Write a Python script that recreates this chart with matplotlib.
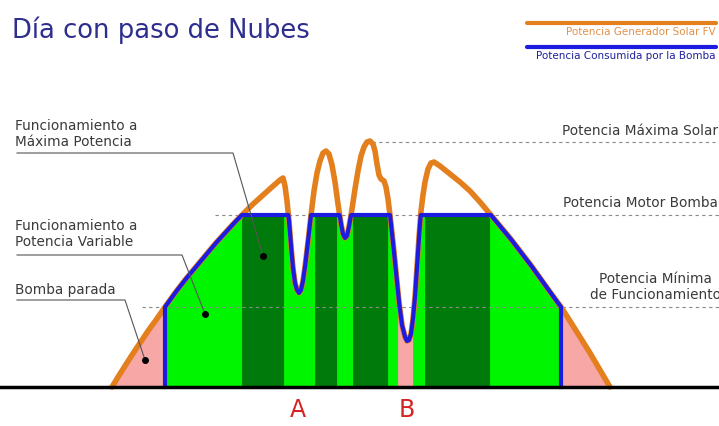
import numpy as np
import matplotlib.pyplot as plt

# Solar generator power over the day (x = time position, y = power)
solar_t = [112, 118, 125, 132, 140, 148, 156, 165, 175, 185, 195, 205, 215, 225,
           235, 243, 252, 262, 272, 280, 283,
           285, 287, 289, 291, 293, 295, 297, 299, 301, 303, 305, 308, 311, 314,
           317, 320, 323, 326, 329, 332, 335, 338, 341, 343, 345, 347, 349, 352,
           355, 358, 361, 364, 367, 370, 373, 375, 377, 379, 381, 384, 386, 388,
           390, 393, 396, 399, 402, 405, 407, 409, 411, 413, 415, 417, 419, 421,
           423, 425, 428, 431, 434, 440, 450, 460, 470, 480, 490, 500, 510, 520,
           530, 540, 550, 561, 570, 580, 590, 600, 610]
solar_p = [0, 10, 21, 32, 44, 56, 67, 80, 94, 107, 119, 131, 143, 154,
           165, 173, 182, 191, 200, 207, 209,
           201, 186, 166, 141, 119, 104, 97, 94, 97, 106, 120, 145, 172, 196,
           214, 226, 234, 236, 233, 222, 205, 183, 163, 153, 149, 151, 160, 178,
           198, 216, 231, 240, 245, 246, 243, 236, 223, 212, 208, 206, 200, 188,
           172, 145, 115, 85, 62, 50, 46, 47, 53, 68, 90, 120, 150, 176,
           192, 205, 218, 224, 225, 221, 213, 205, 196, 185, 173, 161, 149, 136,
           123, 109, 95, 80, 66, 50, 34, 17, 0]

# Reference levels
p_max_solar = 245
p_motor = 172
p_min = 80

# Pump start / stop times
t_start, t_stop = 165, 561

# Operating regions between edges
region_edges = [112, 165, 242, 284, 315, 337, 353, 388, 398, 413, 425, 490, 561, 610]
region_state = ['stop', 'var', 'max', 'var', 'max', 'var', 'max', 'var', 'stop',
                'var', 'max', 'var', 'stop']

state_color = {'stop': '#F8A7A7', 'var': '#00F500', 'max': '#007A0A'}
orange = '#E47F1E'
blue = '#1C1CE0'
grey_txt = '#3A3A3A'

solar_t = np.array(solar_t, dtype=float)
solar_p = np.array(solar_p, dtype=float)

def pump_power(t):
    p = np.interp(t, solar_t, solar_p)
    on = (t >= t_start) & (t <= t_stop)
    return np.where(on, np.minimum(p, p_motor), p)

fig = plt.figure(figsize=(7.19, 4.26), dpi=100)
ax = fig.add_axes([0, 0, 1, 1])
ax.set_xlim(0, 719)
ax.set_ylim(-39, 387)
ax.axis('off')

# coloured regions under the pump curve
for a, b, s in zip(region_edges[:-1], region_edges[1:], region_state):
    tt = np.linspace(a, b, 80)
    ax.fill_between(tt, 0, pump_power(tt), facecolor=state_color[s],
                    edgecolor=state_color[s], lw=0.6, zorder=1)

# dashed reference lines
dash = dict(ls=(0, (3, 3)), color='#8A8A8A', lw=0.8, zorder=2)
ax.plot([372, 715], [p_max_solar, p_max_solar], **dash)
ax.plot([215, 719], [p_motor, p_motor], **dash)
ax.plot([142, 719], [p_min, p_min], **dash)

# solar curve
ax.plot(solar_t, solar_p, color=orange, lw=4, solid_joinstyle='round',
        solid_capstyle='round', zorder=3)

# pump curve
tt = np.linspace(t_start, t_stop, 1000)
tt = np.unique(np.concatenate([tt, solar_t[(solar_t > t_start) & (solar_t < t_stop)]]))
bt = np.concatenate([[t_start], tt, [t_stop]])
bp = np.concatenate([[0], pump_power(tt), [0]])
ax.plot(bt, bp, color=blue, lw=3.0, solid_joinstyle='round', zorder=4)

# baseline
ax.plot([0, 719], [0, 0], color='black', lw=2.5, zorder=5)

# title
ax.text(12, 357, 'Día con paso de Nubes', fontsize=18.6, color='#2E2E8E', va='center', ha='left')

# legend
ax.plot([527, 716], [364, 364], color=orange, lw=3, solid_capstyle='round')
ax.text(716, 355, 'Potencia Generador Solar FV', fontsize=7.5, color='#E0924A',
        ha='right', va='center')
ax.plot([527, 716], [340, 340], color=blue, lw=3, solid_capstyle='round')
ax.text(716, 331, 'Potencia Consumida por la Bomba', fontsize=7.5, color='#2020A0',
        ha='right', va='center')

# left annotations
fs = 9.8
ax.text(15, 253, 'Funcionamiento a\nMáxima Potencia', fontsize=fs, color=grey_txt,
        ha='left', va='center', linespacing=1.25)
ax.plot([17, 233, 263], [234, 234, 131], color='#555555', lw=0.8, zorder=6)
ax.plot([263], [131], 'o', color='black', ms=4, zorder=6)

ax.text(15, 153, 'Funcionamiento a\nPotencia Variable', fontsize=fs, color=grey_txt,
        ha='left', va='center', linespacing=1.25)
ax.plot([17, 182, 205], [132, 132, 73], color='#555555', lw=0.8, zorder=6)
ax.plot([205], [73], 'o', color='black', ms=4, zorder=6)

ax.text(15, 97, 'Bomba parada', fontsize=fs, color=grey_txt, ha='left', va='center')
ax.plot([17, 125, 145], [87, 87, 27], color='#555555', lw=0.8, zorder=6)
ax.plot([145], [27], 'o', color='black', ms=4, zorder=6)

# right annotations
ax.text(718, 256, 'Potencia Máxima Solar', fontsize=fs, color=grey_txt, ha='right', va='center')
ax.text(718, 184, 'Potencia Motor Bomba', fontsize=fs, color=grey_txt, ha='right', va='center')
ax.text(655, 100, 'Potencia Mínima\nde Funcionamiento', fontsize=fs, color=grey_txt,
        ha='center', va='center', linespacing=1.25)

# event markers
ax.text(298, -23, 'A', fontsize=17, color='#D42424', ha='center', va='center')
ax.text(407, -23, 'B', fontsize=17, color='#D42424', ha='center', va='center')

fig.savefig('out.png', dpi=100)
